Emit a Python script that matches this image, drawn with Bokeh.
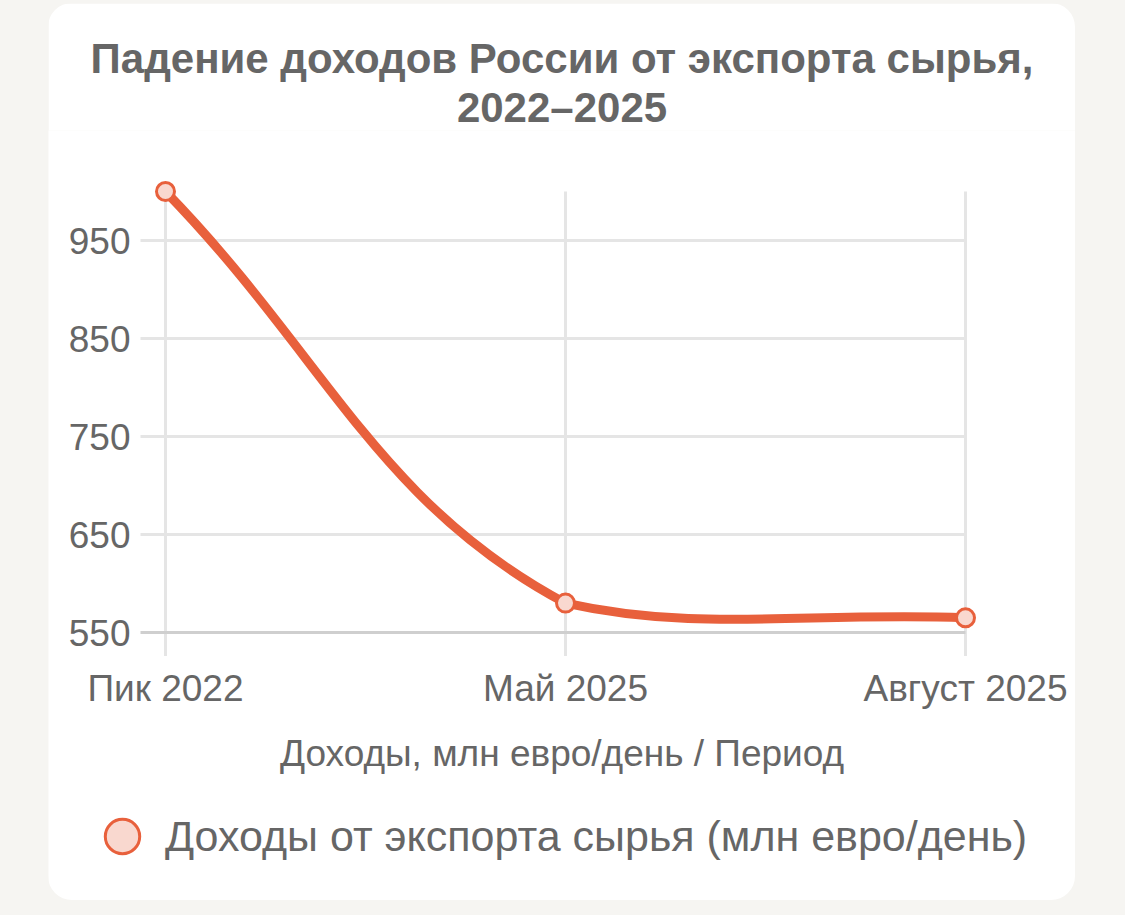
import numpy as np
from bokeh.plotting import figure
from bokeh.models import (ColumnDataSource, FixedTicker, Title, Legend, LegendItem,
                          Spacer, Range1d)
from bokeh.layouts import row, column
from bokeh.embed import file_html
from bokeh.resources import INLINE

# ---------------- data ----------------
title_lines = ["Падение доходов России от экспорта сырья,", "2022–2025"]
periods = ["Пик 2022", "Май 2025", "Август 2025"]
revenue = [1000, 580, 565]
y_ticks = [550, 650, 750, 850, 950]
axis_title = "Доходы, млн евро/день / Период"
series_name = "Доходы от экспорта сырья (млн евро/день)"

# ---------------- style ----------------
LINE = "#e8603c"
FILL = "#f9d8cf"
TEXT = "#666666"
GRID = "#e5e5e5"
BORDER = "#cfcfcf"
PAGE = "#f6f5f2"
FONT = "Liberation Sans"

CARD_W, CARD_H, TOP = 1027, 897, 127
PX_X, PX_Y = 400.0, 0.98          # pixels per data unit
TENSION = 0.4

xs = list(range(len(periods)))
y_lo, y_hi = y_ticks[0], max(revenue)

# plot-area extents (grid ends), in data units from pixel paddings
gx0 = xs[0] - 25 / PX_X            # grid lines reach 25px left of first category
gy0 = y_lo - 23.5 / PX_Y           # vertical lines reach 23px below the axis

# whole card is the frame; ranges derived from pixel layout
x_start = xs[0] - 117 / PX_X
x_end = x_start + CARD_W / PX_X
y_end = y_hi + (188 - TOP) / PX_Y
y_start = y_end - (CARD_H - TOP) / PX_Y


def spline_controls(xv, yv):
    n = len(xv)
    cin, cout = [], []
    for i in range(n):
        pv = i - 1 if i > 0 else i
        nx = i + 1 if i < n - 1 else i
        d01 = np.hypot((xv[i] - xv[pv]) * PX_X, (yv[i] - yv[pv]) * PX_Y)
        d12 = np.hypot((xv[nx] - xv[i]) * PX_X, (yv[nx] - yv[i]) * PX_Y)
        tot = d01 + d12
        s01 = d01 / tot if tot else 0.0
        s12 = d12 / tot if tot else 0.0
        fa, fb = TENSION * s01, TENSION * s12
        dx, dy = xv[nx] - xv[pv], yv[nx] - yv[pv]
        cin.append((min(max(xv[i] - fa * dx, xv[0]), xv[-1]),
                    min(max(yv[i] - fa * dy, y_lo), y_hi)))
        cout.append((min(max(xv[i] + fb * dx, xv[0]), xv[-1]),
                     min(max(yv[i] + fb * dy, y_lo), y_hi)))
    return cin, cout


cin, cout = spline_controls(xs, revenue)
seg = ColumnDataSource(dict(
    x0=xs[:-1], y0=revenue[:-1], x1=xs[1:], y1=revenue[1:],
    cx0=[c[0] for c in cout[:-1]], cy0=[c[1] for c in cout[:-1]],
    cx1=[c[0] for c in cin[1:]], cy1=[c[1] for c in cin[1:]],
))

p = figure(frame_width=CARD_W, frame_height=CARD_H - TOP,
           x_range=Range1d(x_start, x_end), y_range=Range1d(y_start, y_end),
           output_backend="svg", toolbar_location=None,
           min_border_left=0, min_border_right=0,
           min_border_top=TOP, min_border_bottom=0,
           background_fill_color="white", border_fill_color="white",
           outline_line_color=None)
p.grid.grid_line_color = None

xax = p.xaxis[0]
yax = p.yaxis[0]
xax.fixed_location = gy0
yax.fixed_location = gx0
yax.ticker = FixedTicker(ticks=y_ticks)
xax.ticker = FixedTicker(ticks=xs)
xax.major_label_overrides = {i: s for i, s in zip(xs, periods)}
for ax in (xax, yax):
    ax.axis_line_color = None
    ax.major_tick_line_color = None
    ax.minor_tick_line_color = None
    ax.major_tick_out = 0
    ax.major_tick_in = 0
    ax.minor_tick_out = 0
    ax.minor_tick_in = 0
    ax.major_label_text_font = FONT
    ax.major_label_text_font_size = "37px"
    ax.major_label_text_color = TEXT
yax.major_label_standoff = 10
xax.major_label_standoff = 12
xax.axis_label = axis_title
xax.axis_label_text_font = FONT
xax.axis_label_text_font_size = "37px"
xax.axis_label_text_font_style = "normal"
xax.axis_label_text_color = TEXT
xax.axis_label_standoff = 20

# two-line title (line 2 closest to the frame)
for line in reversed(title_lines):
    p.add_layout(Title(text=line, align="center", text_font_size="42px",
                       text_font_style="bold", text_color=TEXT, text_font=FONT,
                       standoff=0), "above")

# grid lines
grid_src = ColumnDataSource(dict(y=y_ticks[1:], x0=[gx0] * (len(y_ticks) - 1),
                                 x1=[xs[-1]] * (len(y_ticks) - 1)))
p.segment(x0="x0", y0="y", x1="x1", y1="y", source=grid_src,
          line_color=GRID, line_width=3)
vgrid_src = ColumnDataSource(dict(x=xs, y0=[gy0] * len(xs), y1=[y_hi] * len(xs)))
p.segment(x0="x", y0="y0", x1="x", y1="y1", source=vgrid_src,
          line_color=GRID, line_width=3)
p.segment(x0=[gx0], y0=[y_lo], x1=[xs[-1]], y1=[y_lo],
          line_color=BORDER, line_width=3)

# curve + points
p.bezier(x0="x0", y0="y0", x1="x1", y1="y1", cx0="cx0", cy0="cy0",
         cx1="cx1", cy1="cy1", source=seg, line_color=LINE, line_width=9,
         line_cap="round")
pts = p.scatter(xs, revenue, size=18, fill_color=FILL, line_color=LINE, line_width=3)

legend = Legend(items=[LegendItem(label=series_name, renderers=[pts])],
                location=(31, 21), orientation="horizontal",
                glyph_width=86, glyph_height=86, label_height=86,
                label_standoff=0, padding=0, margin=0, spacing=0,
                label_text_font=FONT, label_text_font_size="43px",
                label_text_color=TEXT, border_line_color=None,
                background_fill_alpha=0)
p.add_layout(legend)

p.styles = {"border-radius": "24px", "overflow": "hidden"}
layout = column(Spacer(width=1124, height=3),
                row(Spacer(width=48, height=CARD_H), p, Spacer(width=49, height=CARD_H)),
                Spacer(width=1124, height=14),
                styles={"background-color": PAGE})

html = file_html(layout, INLINE)
html = html.replace("<body>", '<body style="background-color:%s">' % PAGE)
open("out.html", "w").write(html)
